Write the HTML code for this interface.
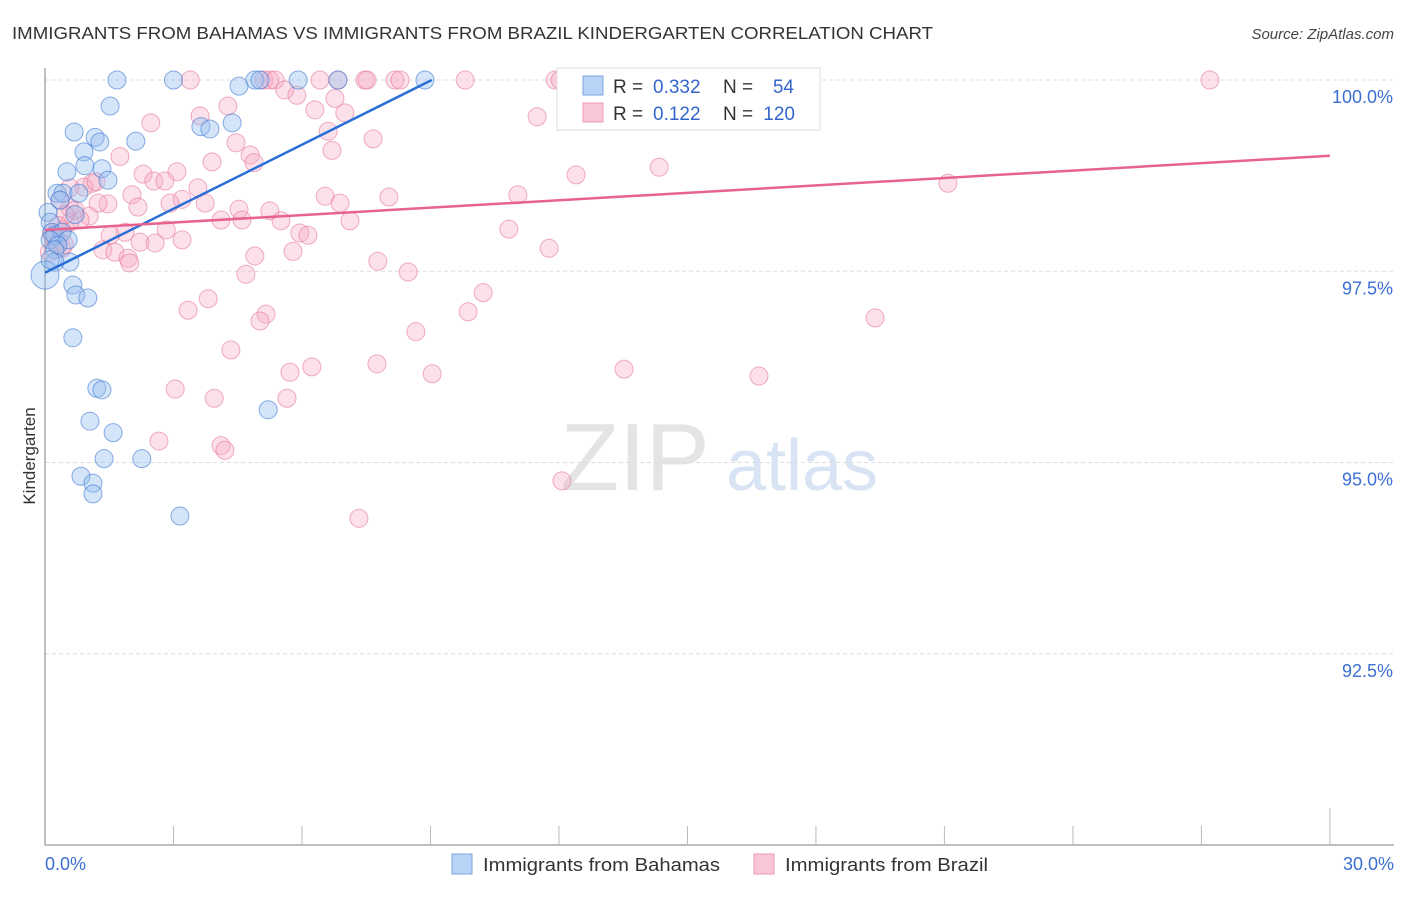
<!DOCTYPE html>
<html><head><meta charset="utf-8"><style>
body{margin:0;background:#fff;font-family:"Liberation Sans",sans-serif}
svg text{font-family:"Liberation Sans",sans-serif}
</style></head><body>
<svg id="c" width="1406" height="892">
<text x="12" y="39" font-size="17.5" fill="#333" textLength="921" lengthAdjust="spacingAndGlyphs">IMMIGRANTS FROM BAHAMAS VS IMMIGRANTS FROM BRAZIL KINDERGARTEN CORRELATION CHART</text>
<text x="1394" y="39" font-size="15" fill="#444" font-style="italic" text-anchor="end">Source: ZipAtlas.com</text>
<text x="35" y="456" font-size="17" fill="#333" transform="rotate(-90 35 456)" text-anchor="middle">Kindergarten</text>
<g><text x="635" y="490" font-size="96" fill="#e4e4e4" font-family="Liberation Serif" text-anchor="middle">ZIP</text><text x="802" y="490" font-size="72" fill="#d8e4f4" text-anchor="middle">atlas</text></g>
<g id="grid"></g><g id="pts"></g><g id="lines"></g>
<g>
<rect x="557" y="68" width="263" height="62" fill="#fff" stroke="#ddd"/>
<rect x="583" y="76" width="20" height="19" fill="#b8d3f5" stroke="#7aa6e0"/>
<rect x="583" y="103" width="20" height="19" fill="#f9c6d5" stroke="#ee9ab5"/>
<text x="613" y="93" font-size="19" fill="#333">R =</text><text x="653" y="93" font-size="19" fill="#3366cc">0.332</text>
<text x="723" y="93" font-size="19" fill="#333">N =</text><text x="794" y="93" font-size="19" fill="#3366cc" text-anchor="end">54</text>
<text x="613" y="120" font-size="19" fill="#333">R =</text><text x="653" y="120" font-size="19" fill="#3366cc">0.122</text>
<text x="723" y="120" font-size="19" fill="#333">N =</text><text x="795" y="120" font-size="19" fill="#3366cc" text-anchor="end">120</text>
</g>
<g><rect x="452" y="854" width="20" height="20" fill="#b8d3f5" stroke="#7aa6e0"/><text x="483" y="871" font-size="18" fill="#333" textLength="237" lengthAdjust="spacingAndGlyphs">Immigrants from Bahamas</text></g>
<g><rect x="754" y="854" width="20" height="20" fill="#f9c6d5" stroke="#ee9ab5"/><text x="785" y="871" font-size="18" fill="#333" textLength="203" lengthAdjust="spacingAndGlyphs">Immigrants from Brazil</text></g>
</svg>
<script>
const yTicks=[100,97.5,95,92.5];
const yTickLabels=["100.0%","97.5%","95.0%","92.5%"];
const xTickLabels=["0.0%","30.0%"];
const bahX=[1.68,3.0,4.53,4.9,5.02,5.91,6.84,8.87,1.52,0.68,1.17,1.28,2.12,3.64,3.85,4.37,0.91,0.51,1.33,1.47,0.93,0.28,0.42,0.79,0.35,0.07,0.12,0.70,0.16,0.23,0.40,0.54,0.12,0.30,0.23,0.58,0.23,0.0,0.65,0.72,1.0,0.65,1.21,1.33,1.05,1.59,5.21,1.38,2.26,0.84,1.12,1.12,3.15,0.12];
const bahY=[100,100,99.92,100,100,100,100,100,99.66,99.32,99.25,99.19,99.2,99.39,99.36,99.44,99.06,98.8,98.84,98.69,98.88,98.52,98.52,98.52,98.43,98.27,98.14,98.24,98.01,97.97,98.01,97.91,97.91,97.84,97.78,97.62,97.62,97.45,97.32,97.19,97.15,96.63,95.97,95.95,95.54,95.39,95.69,95.05,95.05,94.82,94.73,94.59,94.3,97.65];
const braX=[3.39,5.11,5.25,5.37,6.42,6.84,7.47,7.52,8.17,8.29,9.81,11.91,12.03,13.89,15.99,16.23,27.2,5.6,5.88,6.77,6.3,7.0,4.27,3.62,2.47,6.61,7.66,4.46,6.7,4.79,4.88,1.75,3.9,3.08,2.29,3.57,2.54,2.8,1.1,0.91,1.19,6.54,8.03,11.04,12.4,14.34,21.08,11.49,2.03,2.17,3.2,3.74,4.53,5.25,6.89,2.92,1.47,1.24,1.03,0.58,0.35,0.82,4.11,4.6,5.51,7.12,10.83,1.87,2.83,5.95,6.14,1.52,2.22,2.57,3.2,0.26,0.4,1.35,1.63,1.94,1.98,4.9,5.79,11.77,7.77,8.48,4.69,10.23,3.81,3.34,5.16,5.02,9.88,8.66,19.38,4.34,6.23,5.72,7.75,9.04,13.52,16.67,3.04,3.95,5.65,2.66,4.11,4.2,12.07,7.33,0.58,0.7,0.4,0.58,0.47,0.2,0.3,0.1,0.45,0.15];
const braY=[100,100,100,100,100,100,100,100,100,100,100,100,100,100,100,100,100,99.87,99.8,99.76,99.61,99.57,99.66,99.53,99.44,99.33,99.23,99.18,99.08,99.02,98.92,99.0,98.93,98.8,98.77,98.59,98.68,98.68,98.65,98.6,98.67,98.48,98.47,98.5,98.76,98.86,98.65,99.52,98.5,98.34,98.44,98.39,98.31,98.29,98.39,98.39,98.38,98.39,98.22,98.33,98.43,98.17,98.17,98.17,98.16,98.16,98.05,98.01,98.04,98.0,97.97,97.97,97.88,97.87,97.91,97.86,97.8,97.78,97.75,97.67,97.61,97.7,97.76,97.8,97.63,97.49,97.46,97.22,97.14,96.99,96.94,96.85,96.97,96.71,96.89,96.47,96.25,96.18,96.29,96.16,96.22,96.13,95.96,95.84,95.84,95.28,95.22,95.16,94.76,94.27,98.14,98.3,98.04,98.59,98.24,97.95,98.1,97.75,97.85,98.0];
const bahLine=[0,97.48,9.03,100];
const braLine=[0,98.04,30,99.01];
const NS="http://www.w3.org/2000/svg";
const X=v=>45+v*42.83, Y=v=>80+(100-v)*76.5;
function mk(t,a,p){const e=document.createElementNS(NS,t);for(const k in a)e.setAttribute(k,a[k]);p.appendChild(e);return e;}
const g=document.getElementById('grid');
yTicks.forEach((t,i)=>{
 const l=mk('line',{x1:45,x2:1394,y1:Y(t),y2:Y(t),stroke:'#ddd','stroke-dasharray':'4,3'},g);
 
 
 const tx=mk('text',{x:1393,y:Y(t)+23,'font-size':18,fill:'#3b6fd4','text-anchor':'end'},g);tx.textContent=yTickLabels[i];
 
 
});
const ax=mk('path',{d:'M45 68V845H1394',fill:'none',stroke:'#aaa','stroke-width':1.5},g);


for(let k=1;k<=10;k++){const t=mk('line',{x1:X(3*k),x2:X(3*k),y1:k==10?808:826,y2:845,stroke:'#bbb'},g);
 
 }
[[0,'start',45],[30,'end',1394]].forEach((d,i)=>{const t=mk('text',{x:d[2],y:870,'font-size':18,fill:'#3b6fd4','text-anchor':d[1]},g);t.textContent=xTickLabels[i];
 
 });
const p=document.getElementById('pts');
braX.forEach((x,i)=>{const c=mk('circle',{cx:X(x),cy:Y(braY[i]),r:9,fill:'rgba(245,170,195,0.35)',stroke:'rgba(230,120,155,0.6)'},p);
 
 });
bahX.forEach((x,i)=>{const c=mk('circle',{cx:X(x),cy:Y(bahY[i]),r:i==37?14:9,fill:'rgba(150,190,240,0.4)',stroke:'rgba(60,120,210,0.6)'},p);
 
 });
const L=document.getElementById('lines');
const l1=mk('line',{x1:X(bahLine[0]),y1:Y(bahLine[1]),x2:X(bahLine[2]),y2:Y(bahLine[3]),stroke:'#2a6fd6','stroke-width':2.5},L);


const l2=mk('line',{x1:X(braLine[0]),y1:Y(braLine[1]),x2:X(braLine[2]),y2:Y(braLine[3]),stroke:'#e8628e','stroke-width':2.5},L);


</script>
</body></html>
